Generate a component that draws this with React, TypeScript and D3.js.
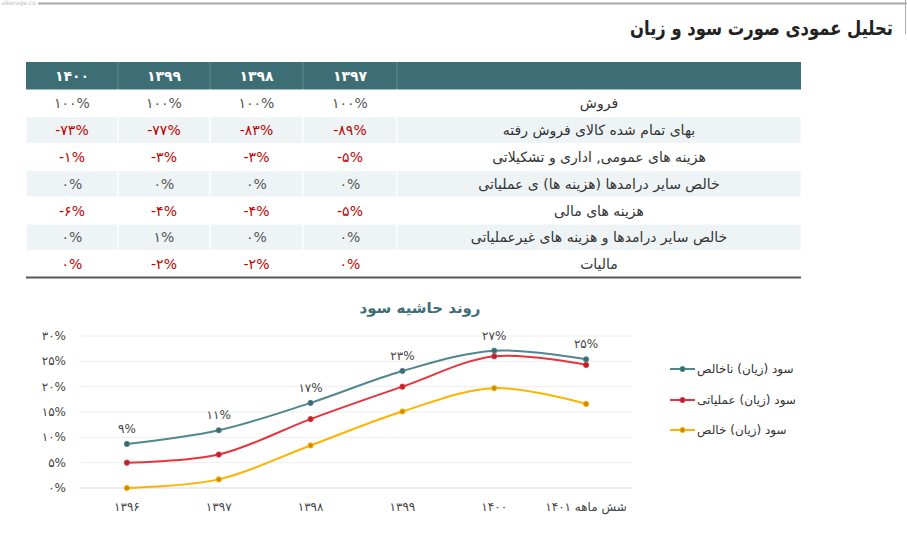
import React, { useEffect } from 'react';
import * as d3 from 'd3';

// ---------- Table data ----------
const tableYears = ['۱۴۰۰', '۱۳۹۹', '۱۳۹۸', '۱۳۹۷'];
const rowLabels = [
  'فروش',
  'بهای تمام شده کالای فروش رفته',
  'هزینه های عمومی, اداری و تشکیلاتی',
  'خالص سایر درامدها (هزینه ها) ی عملیاتی',
  'هزینه های مالی',
  'خالص سایر درامدها و هزینه های غیرعملیاتی',
  'مالیات',
];
const salesRow = [100, 100, 100, 100];
const cogsRow = [-73, -77, -83, -89];
const adminRow = [-1, -3, -3, -5];
const otherOpRow = [0, 0, 0, 0];
const financeRow = [-6, -4, -4, -5];
const otherNonOpRow = [0, 1, 0, 0];
const taxRow = [0, -2, -2, 0];
const rowIsRed = [false, true, true, false, true, false, true];

// ---------- Chart data ----------
const categories = ['۱۳۹۶', '۱۳۹۷', '۱۳۹۸', '۱۳۹۹', '۱۴۰۰', 'شش ماهه ۱۴۰۱'];
const grossMargin = [8.7, 11.4, 16.8, 23.1, 27.1, 25.4];
const operatingMargin = [5.0, 6.6, 13.6, 20.0, 26.0, 24.3];
const netMargin = [0.0, 1.7, 8.4, 15.1, 19.7, 16.6];
const yTicks = [0, 5, 10, 15, 20, 25, 30];
const seriesNames = ['سود (زیان) ناخالص', 'سود (زیان) عملیاتی', 'سود (زیان) خالص'];

const toFa = (s: string | number) =>
  String(s).replace(/[0-9]/g, (d) => '۰۱۲۳۴۵۶۷۸۹'[+d]);
const pct = (v: number) => (v < 0 ? '-' + toFa(Math.abs(v)) : toFa(v)) + '%';

const FONT = '"DejaVu Sans", "Noto Sans", sans-serif';

export default function App() {
  useEffect(() => {
    document.body.style.margin = '0';
  }, []);

  const W = 907;
  const H = 535;

  // table geometry
  const tableLeft = 26;
  const tableRight = 801;
  const colEdges = [26, 118, 210, 303, 397];
  const headerTop = 62;
  const headerH = 28;
  const rowH = 26.8;
  const rows = [salesRow, cogsRow, adminRow, otherOpRow, financeRow, otherNonOpRow, taxRow];
  const labelCenter = (397 + tableRight) / 2;

  // chart geometry
  const plotLeft = 81;
  const plotRight = 632;
  const x = d3.scaleBand<string>().domain(categories).range([plotLeft, plotRight]);
  const y = d3.scaleLinear().domain([0, 30]).range([488, 336]);
  const cx = (c: string) => (x(c) as number) + x.bandwidth() / 2;

  const line = d3
    .line<number>()
    .x((_, i) => cx(categories[i]))
    .y((v) => y(v))
    .curve(d3.curveCatmullRom.alpha(0.5));

  const series = [
    { name: seriesNames[0], values: grossMargin, color: '#4f878d', dark: '#3a6a70' },
    { name: seriesNames[1], values: operatingMargin, color: '#e8333c', dark: '#b8222a' },
    { name: seriesNames[2], values: netMargin, color: '#ffb300', dark: '#c78a00' },
  ];

  return (
    <svg width={W} height={H} style={{ display: 'block', fontFamily: FONT }}>
      <rect x={0} y={0} width={W} height={H} fill="#fff" />
      {/* top watermark line */}
      <text x={1} y={5} fontSize={6} fill="#bbb">alkerage.co</text>
      <line x1={38} x2={907} y1={3.5} y2={3.5} stroke="#aaa" strokeWidth={2} />
      <line x1={905.5} x2={905.5} y1={0} y2={34} stroke="#aaa" strokeWidth={1} />

      {/* Title */}
      <g transform="translate(893,35) scale(0.82,1)">
        <text x={0} y={0} fontSize={20} fontWeight="bold" fill="#222" direction="rtl" textAnchor="start">
          تحلیل عمودی صورت سود و زیان
        </text>
      </g>

      {/* Table header */}
      <rect x={tableLeft} y={headerTop} width={tableRight - tableLeft} height={headerH} fill="#3d6e76" />
      {colEdges.slice(1).map((e) => (
        <line key={e} x1={e} x2={e} y1={headerTop} y2={headerTop + headerH} stroke="#5f8a91" strokeWidth={1} />
      ))}
      {tableYears.map((yr, i) => (
        <text
          key={yr}
          x={(colEdges[i] + colEdges[i + 1]) / 2}
          y={headerTop + headerH / 2 + 5}
          textAnchor="middle"
          fontSize={14}
          fontWeight="bold"
          fill="#fff"
        >
          {yr}
        </text>
      ))}

      {/* Table rows */}
      {rows.map((vals, r) => {
        const top = headerTop + headerH + r * rowH;
        const mid = top + rowH / 2 + 5;
        const bg = r % 2 === 1 ? '#eef3f6' : '#ffffff';
        const color = rowIsRed[r] ? '#c00000' : '#555';
        return (
          <g key={r}>
            {colEdges.map((e, ci) => {
              const right = ci < colEdges.length - 1 ? colEdges[ci + 1] : tableRight;
              return (
                <rect key={ci} x={e} y={top} width={right - e} height={rowH} fill={bg} stroke="#fff" strokeWidth={1} />
              );
            })}
            {vals.map((v, i) => (
              <text
                key={i}
                x={(colEdges[i] + colEdges[i + 1]) / 2}
                y={mid}
                textAnchor="middle"
                fontSize={14}
                fill={color}
              >
                {pct(v)}
              </text>
            ))}
            <text x={labelCenter} y={mid} textAnchor="middle" fontSize={14} fill="#333" direction="rtl">
              {rowLabels[r]}
            </text>
          </g>
        );
      })}
      <line
        x1={tableLeft}
        x2={tableRight}
        y1={headerTop + headerH + rows.length * rowH}
        y2={headerTop + headerH + rows.length * rowH}
        stroke="#555"
        strokeWidth={2}
      />

      {/* Chart title */}
      <text x={420} y={313} textAnchor="middle" fontSize={15} fontWeight="bold" fill="#3d6e76" direction="rtl">
        روند حاشیه سود
      </text>

      {/* Grid + y axis */}
      {yTicks.map((t) => (
        <g key={t}>
          <line x1={plotLeft} x2={plotRight} y1={y(t)} y2={y(t)} stroke={t === 0 ? '#d9d9d9' : '#eeeeee'} strokeWidth={1} />
          <text x={66} y={y(t) + 4} textAnchor="end" fontSize={12} fill="#444">
            {pct(t)}
          </text>
        </g>
      ))}

      {/* X labels */}
      {categories.map((c) => (
        <text key={c} x={cx(c)} y={511} textAnchor="middle" fontSize={12} fill="#444" direction="rtl">
          {c}
        </text>
      ))}

      {/* Series */}
      {series.map((s) => (
        <g key={s.name}>
          <path d={line(s.values) as string} fill="none" stroke={s.color} strokeWidth={2} />
          {s.values.map((v, i) => (
            <circle key={i} cx={cx(categories[i])} cy={y(v)} r={2.6} fill={s.dark} stroke={s.color} strokeWidth={1} />
          ))}
        </g>
      ))}

      {/* Data labels (gross margin) */}
      {grossMargin.map((v, i) => (
        <text key={i} x={cx(categories[i])} y={y(v) - 11} textAnchor="middle" fontSize={12} fill="#444">
          {pct(Math.round(v))}
        </text>
      ))}

      {/* Legend */}
      {series.map((s, i) => {
        const ly = [369, 400, 430][i];
        return (
          <g key={s.name}>
            <line x1={670} x2={695} y1={ly} y2={ly} stroke={s.color} strokeWidth={2} />
            <circle cx={682.5} cy={ly} r={2.6} fill={s.dark} stroke={s.color} strokeWidth={1} />
            <text x={697} y={ly + 4} fontSize={12} fill="#333" direction="rtl" textAnchor="end">
              {s.name}
            </text>
          </g>
        );
      })}
    </svg>
  );
}
